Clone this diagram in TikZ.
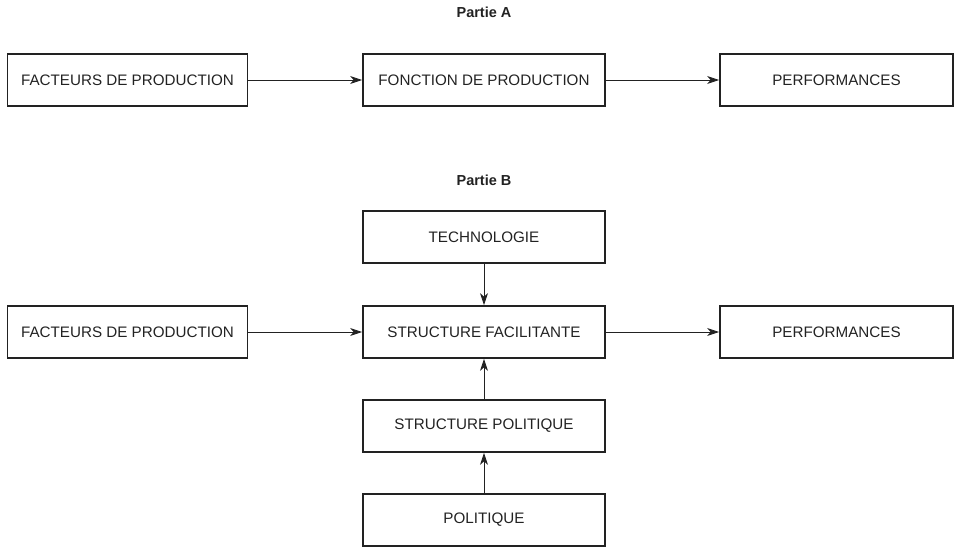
\documentclass[tikz,border=0pt]{standalone}
\usepackage{fontspec}
\setmainfont{Liberation Sans}
\usetikzlibrary{arrows.meta}
\definecolor{ink}{HTML}{222222}
\tikzset{
  box/.style={draw=ink, line width=1.7pt, minimum height=52pt, inner sep=0pt,
              text=ink, font=\fontsize{15.2}{18}\selectfont},
  title/.style={text=ink, font=\bfseries\fontsize{14.5}{17}\selectfont},
  link/.style={draw=ink, line width=0.9pt, -{Stealth[length=12pt,width=8pt,inset=3.5pt]}}
}
\begin{document}
\begin{tikzpicture}[x=1pt,y=-1pt]
\useasboundingbox (0,0) rectangle (958,547);

% Partie A
\node[title] (ta) at (484,12) {Partie A};
\node[box, minimum width=240pt] (fa) at (127.5,80) {FACTEURS DE PRODUCTION};
\node[box, minimum width=242pt] (fo) at (484,80) {FONCTION DE PRODUCTION};
\node[box, minimum width=233pt] (pa) at (836.5,80) {PERFORMANCES};
\draw[link] (fa) -- (fo);
\draw[link] (fo) -- (pa);

% Partie B
\node[title] (tb) at (484,180) {Partie B};
\node[box, minimum width=242pt] (te) at (484,237) {TECHNOLOGIE};
\node[box, minimum width=240pt] (fb) at (127.5,332) {FACTEURS DE PRODUCTION};
\node[box, minimum width=242pt] (sf) at (484,332) {STRUCTURE FACILITANTE};
\node[box, minimum width=233pt] (pb) at (836.5,332) {PERFORMANCES};
\node[box, minimum width=242pt] (sp) at (484,426) {STRUCTURE POLITIQUE};
\node[box, minimum width=242pt] (po) at (484,520) {POLITIQUE};
\draw[link] (fb) -- (sf);
\draw[link] (sf) -- (pb);
\draw[link] (te) -- (sf);
\draw[link] (sp) -- (sf);
\draw[link] (po) -- (sp);
\end{tikzpicture}
\end{document}
